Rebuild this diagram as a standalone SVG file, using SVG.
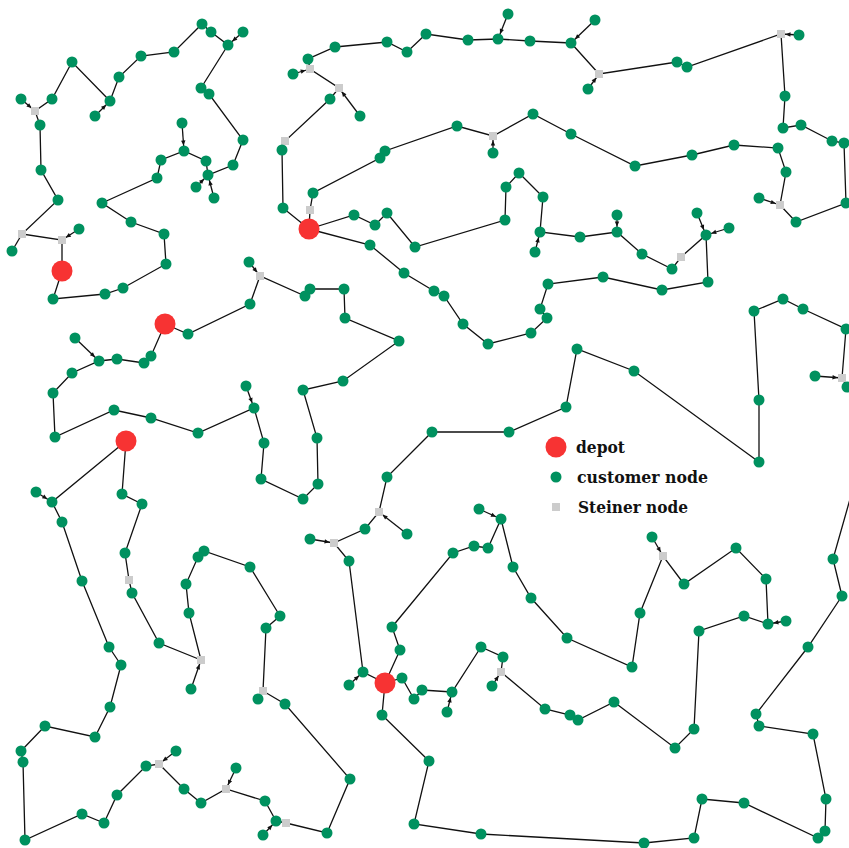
<svg xmlns="http://www.w3.org/2000/svg" width="849" height="848" viewBox="0 0 849 848">
<style>
.c{fill:#00915f}
.d{fill:#f73333}
.s{fill:#cccccc}
#edges polyline,#edges line{fill:none;stroke:#111;stroke-width:1.3}
.t{font-family:"DejaVu Serif",serif;font-weight:bold;font-stretch:condensed;font-size:16.5px;fill:#111}
</style>
<defs>
<marker id="ac" viewBox="-15 -4 15 8" refX="0" refY="0" markerWidth="15" markerHeight="8" markerUnits="userSpaceOnUse" orient="auto"><path d="M-5.5,0 L-10.5,-2.2 L-10.5,2.2 Z" fill="#111"/></marker>
<marker id="as" viewBox="-15 -4 15 8" refX="0" refY="0" markerWidth="15" markerHeight="8" markerUnits="userSpaceOnUse" orient="auto"><path d="M-4.5,0 L-9.5,-2.2 L-9.5,2.2 Z" fill="#111"/></marker>
</defs>
<rect width="849" height="848" fill="#fff"/>
<g id="edges">
<polyline points="62,271 62,240 22,234 58,200 41,170 40,125 35,111 52,99 72,62 110,101 119,77 141,56 174,52 202,24 211,32 228,45 201,88 209,94 243,140 233,165 208,175 206,161 184,151 161,160 157,178 102,203 131,222 164,234 166,264 123,288 105,294 53,299 62,271"/>
<line x1="22" y1="234" x2="12" y2="251"/>
<line x1="21" y1="99" x2="35" y2="111" marker-end="url(#as)"/>
<line x1="79" y1="229" x2="62" y2="240" marker-end="url(#as)"/>
<line x1="95" y1="116" x2="110" y2="101" marker-end="url(#ac)"/>
<line x1="243" y1="32" x2="228" y2="45" marker-end="url(#ac)"/>
<line x1="196" y1="187" x2="208" y2="175" marker-end="url(#ac)"/>
<line x1="214" y1="198" x2="208" y2="175" marker-end="url(#ac)"/>
<line x1="182" y1="123" x2="184" y2="151" marker-end="url(#ac)"/>
<polyline points="309,229 283,208 282,150 285,141 330,99 339,88 310,69 308,59 335,47 387,42 407,52 426,34 468,40 498,39 530,41 571,43 599,74 677,62 687,67 781,34 785,96 783,128 801,125 832,141 844,143 846,203 796,222 780,205 786,172 778,148 734,145 692,155 635,166 571,134 533,114 493,136 457,126 385,151 380,158 313,193 310,210 309,229"/>
<line x1="508" y1="14" x2="498" y2="39" marker-end="url(#ac)"/>
<line x1="293" y1="74" x2="310" y2="69" marker-end="url(#as)"/>
<line x1="360" y1="116" x2="339" y2="88" marker-end="url(#as)"/>
<line x1="493" y1="153" x2="493" y2="136" marker-end="url(#as)"/>
<line x1="595" y1="20" x2="571" y2="43" marker-end="url(#ac)"/>
<line x1="588" y1="89" x2="599" y2="74" marker-end="url(#as)"/>
<line x1="799" y1="35" x2="781" y2="34" marker-end="url(#as)"/>
<line x1="759" y1="198" x2="780" y2="205" marker-end="url(#as)"/>
<polyline points="309,229 354,215 375,225 387,213 415,247 505,220 506,187 519,173 543,197 540,232 580,237 617,232 642,254 672,269 681,257 706,235 708,282 662,290 603,277 548,284 540,309 547,318 531,333 488,344 463,324 444,296 434,291 404,273 370,245 309,229"/>
<line x1="535" y1="252" x2="540" y2="232" marker-end="url(#ac)"/>
<line x1="617" y1="215" x2="617" y2="232" marker-end="url(#ac)"/>
<line x1="697" y1="213" x2="706" y2="235" marker-end="url(#ac)"/>
<line x1="729" y1="228" x2="706" y2="235" marker-end="url(#ac)"/>
<polyline points="165,324 188,334 250,304 260,276 305,296 310,289 344,289 345,318 399,341 343,381 303,390 317,438 318,484 303,499 261,479 264,443 254,408 198,433 151,418 114,410 55,437 53,393 72,373 99,361 117,359 144,363 151,356 165,324"/>
<line x1="249" y1="262" x2="260" y2="276" marker-end="url(#as)"/>
<line x1="75" y1="338" x2="99" y2="361" marker-end="url(#ac)"/>
<line x1="246" y1="386" x2="254" y2="408" marker-end="url(#ac)"/>
<polyline points="126,441 52,502 62,522 82,581 109,647 121,665 110,707 95,737 45,726 21,751 23,762 25,840 82,814 104,823 117,795 146,766 159,764 184,789 201,803 226,789 265,801 276,821 286,823 327,833 350,779 285,704 263,691 266,628 280,616 250,567 204,551 198,557 186,584 189,613 201,660 159,643 132,593 129,580 125,553 142,504 122,494 126,441"/>
<line x1="263" y1="691" x2="258" y2="699"/>
<line x1="36" y1="492" x2="52" y2="502" marker-end="url(#ac)"/>
<line x1="176" y1="751" x2="159" y2="764" marker-end="url(#as)"/>
<line x1="236" y1="768" x2="226" y2="789" marker-end="url(#as)"/>
<line x1="263" y1="835" x2="276" y2="821" marker-end="url(#ac)"/>
<line x1="191" y1="689" x2="201" y2="660" marker-end="url(#as)"/>
<polyline points="385,683 363,672 349,561 334,543 365,529 379,512 387,477 432,432 509,432 566,407 577,349 634,371 759,462 759,400 754,311 783,299 803,309 846,329 842,378 847,387"/>
<line x1="349" y1="685" x2="363" y2="672" marker-end="url(#ac)"/>
<line x1="310" y1="539" x2="334" y2="543" marker-end="url(#as)"/>
<line x1="407" y1="534" x2="379" y2="512" marker-end="url(#as)"/>
<line x1="815" y1="376" x2="842" y2="378" marker-end="url(#as)"/>
<polyline points="856,478 833,559 842,596 808,647 756,714 759,726 813,734 826,799 825,831 818,838 744,803 702,799 694,838 644,843 481,834 414,824 429,761 382,715 385,683"/>
<polyline points="385,683 400,650 392,627 453,553 474,546 488,548 501,519 513,567 531,598 567,638 632,667 640,613 663,556 684,584 736,548 766,579 768,624 744,616 699,631 694,729 675,748 614,702 578,720 570,715 545,709 501,672 503,657 481,647 452,692 422,690 414,699 402,678 385,683"/>
<line x1="479" y1="509" x2="501" y2="519" marker-end="url(#ac)"/>
<line x1="652" y1="537" x2="663" y2="556" marker-end="url(#as)"/>
<line x1="786" y1="621" x2="768" y2="624" marker-end="url(#ac)"/>
<line x1="447" y1="712" x2="452" y2="692" marker-end="url(#ac)"/>
<line x1="492" y1="686" x2="501" y2="672" marker-end="url(#as)"/>
</g>
<g id="steiner">
<g id="s1"><rect class="s" x="31" y="107" width="8" height="8"/></g>
<g id="s2"><rect class="s" x="18" y="230" width="8" height="8"/></g>
<g id="s3"><rect class="s" x="58" y="236" width="8" height="8"/></g>
<g id="s4"><rect class="s" x="281" y="137" width="8" height="8"/></g>
<g id="s5"><rect class="s" x="306" y="65" width="8" height="8"/></g>
<g id="s6"><rect class="s" x="335" y="84" width="8" height="8"/></g>
<g id="s7"><rect class="s" x="306" y="206" width="8" height="8"/></g>
<g id="s8"><rect class="s" x="489" y="132" width="8" height="8"/></g>
<g id="s9"><rect class="s" x="595" y="70" width="8" height="8"/></g>
<g id="s10"><rect class="s" x="777" y="30" width="8" height="8"/></g>
<g id="s11"><rect class="s" x="776" y="201" width="8" height="8"/></g>
<g id="s12"><rect class="s" x="677" y="253" width="8" height="8"/></g>
<g id="s13"><rect class="s" x="256" y="272" width="8" height="8"/></g>
<g id="s14"><rect class="s" x="375" y="508" width="8" height="8"/></g>
<g id="s15"><rect class="s" x="330" y="539" width="8" height="8"/></g>
<g id="s16"><rect class="s" x="838" y="374" width="8" height="8"/></g>
<g id="s17"><rect class="s" x="659" y="552" width="8" height="8"/></g>
<g id="s18"><rect class="s" x="125" y="576" width="8" height="8"/></g>
<g id="s19"><rect class="s" x="197" y="656" width="8" height="8"/></g>
<g id="s20"><rect class="s" x="259" y="687" width="8" height="8"/></g>
<g id="s21"><rect class="s" x="155" y="760" width="8" height="8"/></g>
<g id="s22"><rect class="s" x="222" y="785" width="8" height="8"/></g>
<g id="s23"><rect class="s" x="282" y="819" width="8" height="8"/></g>
<g id="s24"><rect class="s" x="497" y="668" width="8" height="8"/></g>
</g>
<g id="customers">
<g id="c1"><circle class="c" cx="202" cy="24" r="5.5"/></g>
<g id="c2"><circle class="c" cx="211" cy="32" r="5.5"/></g>
<g id="c3"><circle class="c" cx="243" cy="32" r="5.5"/></g>
<g id="c4"><circle class="c" cx="228" cy="45" r="5.5"/></g>
<g id="c5"><circle class="c" cx="174" cy="52" r="5.5"/></g>
<g id="c6"><circle class="c" cx="141" cy="56" r="5.5"/></g>
<g id="c7"><circle class="c" cx="72" cy="62" r="5.5"/></g>
<g id="c8"><circle class="c" cx="119" cy="77" r="5.5"/></g>
<g id="c9"><circle class="c" cx="201" cy="88" r="5.5"/></g>
<g id="c10"><circle class="c" cx="209" cy="94" r="5.5"/></g>
<g id="c11"><circle class="c" cx="21" cy="99" r="5.5"/></g>
<g id="c12"><circle class="c" cx="52" cy="99" r="5.5"/></g>
<g id="c13"><circle class="c" cx="110" cy="101" r="5.5"/></g>
<g id="c14"><circle class="c" cx="95" cy="116" r="5.5"/></g>
<g id="c15"><circle class="c" cx="40" cy="125" r="5.5"/></g>
<g id="c16"><circle class="c" cx="182" cy="123" r="5.5"/></g>
<g id="c17"><circle class="c" cx="243" cy="140" r="5.5"/></g>
<g id="c18"><circle class="c" cx="184" cy="151" r="5.5"/></g>
<g id="c19"><circle class="c" cx="161" cy="160" r="5.5"/></g>
<g id="c20"><circle class="c" cx="206" cy="161" r="5.5"/></g>
<g id="c21"><circle class="c" cx="233" cy="165" r="5.5"/></g>
<g id="c22"><circle class="c" cx="208" cy="175" r="5.5"/></g>
<g id="c23"><circle class="c" cx="196" cy="187" r="5.5"/></g>
<g id="c24"><circle class="c" cx="214" cy="198" r="5.5"/></g>
<g id="c25"><circle class="c" cx="157" cy="178" r="5.5"/></g>
<g id="c26"><circle class="c" cx="41" cy="170" r="5.5"/></g>
<g id="c27"><circle class="c" cx="58" cy="200" r="5.5"/></g>
<g id="c28"><circle class="c" cx="102" cy="203" r="5.5"/></g>
<g id="c29"><circle class="c" cx="131" cy="222" r="5.5"/></g>
<g id="c30"><circle class="c" cx="164" cy="234" r="5.5"/></g>
<g id="c31"><circle class="c" cx="166" cy="264" r="5.5"/></g>
<g id="c32"><circle class="c" cx="79" cy="229" r="5.5"/></g>
<g id="c33"><circle class="c" cx="12" cy="251" r="5.5"/></g>
<g id="c34"><circle class="c" cx="123" cy="288" r="5.5"/></g>
<g id="c35"><circle class="c" cx="105" cy="294" r="5.5"/></g>
<g id="c36"><circle class="c" cx="53" cy="299" r="5.5"/></g>
<g id="c37"><circle class="c" cx="249" cy="262" r="5.5"/></g>
<g id="c38"><circle class="c" cx="250" cy="304" r="5.5"/></g>
<g id="c39"><circle class="c" cx="282" cy="150" r="5.5"/></g>
<g id="c40"><circle class="c" cx="283" cy="208" r="5.5"/></g>
<g id="c41"><circle class="c" cx="508" cy="14" r="5.5"/></g>
<g id="c42"><circle class="c" cx="498" cy="39" r="5.5"/></g>
<g id="c43"><circle class="c" cx="530" cy="41" r="5.5"/></g>
<g id="c44"><circle class="c" cx="468" cy="40" r="5.5"/></g>
<g id="c45"><circle class="c" cx="426" cy="34" r="5.5"/></g>
<g id="c46"><circle class="c" cx="407" cy="52" r="5.5"/></g>
<g id="c47"><circle class="c" cx="387" cy="42" r="5.5"/></g>
<g id="c48"><circle class="c" cx="335" cy="47" r="5.5"/></g>
<g id="c49"><circle class="c" cx="308" cy="59" r="5.5"/></g>
<g id="c50"><circle class="c" cx="293" cy="74" r="5.5"/></g>
<g id="c51"><circle class="c" cx="330" cy="99" r="5.5"/></g>
<g id="c52"><circle class="c" cx="360" cy="116" r="5.5"/></g>
<g id="c53"><circle class="c" cx="457" cy="126" r="5.5"/></g>
<g id="c54"><circle class="c" cx="493" cy="153" r="5.5"/></g>
<g id="c55"><circle class="c" cx="533" cy="114" r="5.5"/></g>
<g id="c56"><circle class="c" cx="571" cy="43" r="5.5"/></g>
<g id="c57"><circle class="c" cx="571" cy="134" r="5.5"/></g>
<g id="c58"><circle class="c" cx="385" cy="151" r="5.5"/></g>
<g id="c59"><circle class="c" cx="380" cy="158" r="5.5"/></g>
<g id="c60"><circle class="c" cx="313" cy="193" r="5.5"/></g>
<g id="c61"><circle class="c" cx="354" cy="215" r="5.5"/></g>
<g id="c62"><circle class="c" cx="375" cy="225" r="5.5"/></g>
<g id="c63"><circle class="c" cx="387" cy="213" r="5.5"/></g>
<g id="c64"><circle class="c" cx="415" cy="247" r="5.5"/></g>
<g id="c65"><circle class="c" cx="505" cy="220" r="5.5"/></g>
<g id="c66"><circle class="c" cx="506" cy="187" r="5.5"/></g>
<g id="c67"><circle class="c" cx="519" cy="173" r="5.5"/></g>
<g id="c68"><circle class="c" cx="543" cy="197" r="5.5"/></g>
<g id="c69"><circle class="c" cx="540" cy="232" r="5.5"/></g>
<g id="c70"><circle class="c" cx="535" cy="252" r="5.5"/></g>
<g id="c71"><circle class="c" cx="370" cy="245" r="5.5"/></g>
<g id="c72"><circle class="c" cx="404" cy="273" r="5.5"/></g>
<g id="c73"><circle class="c" cx="434" cy="291" r="5.5"/></g>
<g id="c74"><circle class="c" cx="444" cy="296" r="5.5"/></g>
<g id="c75"><circle class="c" cx="310" cy="289" r="5.5"/></g>
<g id="c76"><circle class="c" cx="305" cy="296" r="5.5"/></g>
<g id="c77"><circle class="c" cx="344" cy="289" r="5.5"/></g>
<g id="c78"><circle class="c" cx="548" cy="284" r="5.5"/></g>
<g id="c79"><circle class="c" cx="595" cy="20" r="5.5"/></g>
<g id="c80"><circle class="c" cx="588" cy="89" r="5.5"/></g>
<g id="c81"><circle class="c" cx="677" cy="62" r="5.5"/></g>
<g id="c82"><circle class="c" cx="687" cy="67" r="5.5"/></g>
<g id="c83"><circle class="c" cx="799" cy="35" r="5.5"/></g>
<g id="c84"><circle class="c" cx="785" cy="96" r="5.5"/></g>
<g id="c85"><circle class="c" cx="783" cy="128" r="5.5"/></g>
<g id="c86"><circle class="c" cx="801" cy="125" r="5.5"/></g>
<g id="c87"><circle class="c" cx="832" cy="141" r="5.5"/></g>
<g id="c88"><circle class="c" cx="844" cy="143" r="5.5"/></g>
<g id="c89"><circle class="c" cx="846" cy="203" r="5.5"/></g>
<g id="c90"><circle class="c" cx="796" cy="222" r="5.5"/></g>
<g id="c91"><circle class="c" cx="759" cy="198" r="5.5"/></g>
<g id="c92"><circle class="c" cx="786" cy="172" r="5.5"/></g>
<g id="c93"><circle class="c" cx="778" cy="148" r="5.5"/></g>
<g id="c94"><circle class="c" cx="734" cy="145" r="5.5"/></g>
<g id="c95"><circle class="c" cx="692" cy="155" r="5.5"/></g>
<g id="c96"><circle class="c" cx="635" cy="166" r="5.5"/></g>
<g id="c97"><circle class="c" cx="617" cy="215" r="5.5"/></g>
<g id="c98"><circle class="c" cx="617" cy="232" r="5.5"/></g>
<g id="c99"><circle class="c" cx="580" cy="237" r="5.5"/></g>
<g id="c100"><circle class="c" cx="642" cy="254" r="5.5"/></g>
<g id="c101"><circle class="c" cx="672" cy="269" r="5.5"/></g>
<g id="c102"><circle class="c" cx="706" cy="235" r="5.5"/></g>
<g id="c103"><circle class="c" cx="697" cy="213" r="5.5"/></g>
<g id="c104"><circle class="c" cx="729" cy="228" r="5.5"/></g>
<g id="c105"><circle class="c" cx="708" cy="282" r="5.5"/></g>
<g id="c106"><circle class="c" cx="662" cy="290" r="5.5"/></g>
<g id="c107"><circle class="c" cx="603" cy="277" r="5.5"/></g>
<g id="c108"><circle class="c" cx="188" cy="334" r="5.5"/></g>
<g id="c109"><circle class="c" cx="75" cy="338" r="5.5"/></g>
<g id="c110"><circle class="c" cx="99" cy="361" r="5.5"/></g>
<g id="c111"><circle class="c" cx="117" cy="359" r="5.5"/></g>
<g id="c112"><circle class="c" cx="144" cy="363" r="5.5"/></g>
<g id="c113"><circle class="c" cx="151" cy="356" r="5.5"/></g>
<g id="c114"><circle class="c" cx="72" cy="373" r="5.5"/></g>
<g id="c115"><circle class="c" cx="53" cy="393" r="5.5"/></g>
<g id="c116"><circle class="c" cx="55" cy="437" r="5.5"/></g>
<g id="c117"><circle class="c" cx="114" cy="410" r="5.5"/></g>
<g id="c118"><circle class="c" cx="151" cy="418" r="5.5"/></g>
<g id="c119"><circle class="c" cx="198" cy="433" r="5.5"/></g>
<g id="c120"><circle class="c" cx="246" cy="386" r="5.5"/></g>
<g id="c121"><circle class="c" cx="254" cy="408" r="5.5"/></g>
<g id="c122"><circle class="c" cx="264" cy="443" r="5.5"/></g>
<g id="c123"><circle class="c" cx="261" cy="479" r="5.5"/></g>
<g id="c124"><circle class="c" cx="36" cy="492" r="5.5"/></g>
<g id="c125"><circle class="c" cx="52" cy="502" r="5.5"/></g>
<g id="c126"><circle class="c" cx="62" cy="522" r="5.5"/></g>
<g id="c127"><circle class="c" cx="122" cy="494" r="5.5"/></g>
<g id="c128"><circle class="c" cx="142" cy="504" r="5.5"/></g>
<g id="c129"><circle class="c" cx="125" cy="553" r="5.5"/></g>
<g id="c130"><circle class="c" cx="204" cy="551" r="5.5"/></g>
<g id="c131"><circle class="c" cx="198" cy="557" r="5.5"/></g>
<g id="c132"><circle class="c" cx="250" cy="567" r="5.5"/></g>
<g id="c133"><circle class="c" cx="345" cy="318" r="5.5"/></g>
<g id="c134"><circle class="c" cx="399" cy="341" r="5.5"/></g>
<g id="c135"><circle class="c" cx="343" cy="381" r="5.5"/></g>
<g id="c136"><circle class="c" cx="303" cy="390" r="5.5"/></g>
<g id="c137"><circle class="c" cx="317" cy="438" r="5.5"/></g>
<g id="c138"><circle class="c" cx="318" cy="484" r="5.5"/></g>
<g id="c139"><circle class="c" cx="303" cy="499" r="5.5"/></g>
<g id="c140"><circle class="c" cx="463" cy="324" r="5.5"/></g>
<g id="c141"><circle class="c" cx="488" cy="344" r="5.5"/></g>
<g id="c142"><circle class="c" cx="531" cy="333" r="5.5"/></g>
<g id="c143"><circle class="c" cx="547" cy="318" r="5.5"/></g>
<g id="c144"><circle class="c" cx="540" cy="309" r="5.5"/></g>
<g id="c145"><circle class="c" cx="566" cy="407" r="5.5"/></g>
<g id="c146"><circle class="c" cx="509" cy="432" r="5.5"/></g>
<g id="c147"><circle class="c" cx="432" cy="432" r="5.5"/></g>
<g id="c148"><circle class="c" cx="387" cy="477" r="5.5"/></g>
<g id="c149"><circle class="c" cx="365" cy="529" r="5.5"/></g>
<g id="c150"><circle class="c" cx="310" cy="539" r="5.5"/></g>
<g id="c151"><circle class="c" cx="349" cy="561" r="5.5"/></g>
<g id="c152"><circle class="c" cx="407" cy="534" r="5.5"/></g>
<g id="c153"><circle class="c" cx="479" cy="509" r="5.5"/></g>
<g id="c154"><circle class="c" cx="501" cy="519" r="5.5"/></g>
<g id="c155"><circle class="c" cx="488" cy="548" r="5.5"/></g>
<g id="c156"><circle class="c" cx="474" cy="546" r="5.5"/></g>
<g id="c157"><circle class="c" cx="453" cy="553" r="5.5"/></g>
<g id="c158"><circle class="c" cx="513" cy="567" r="5.5"/></g>
<g id="c159"><circle class="c" cx="754" cy="311" r="5.5"/></g>
<g id="c160"><circle class="c" cx="783" cy="299" r="5.5"/></g>
<g id="c161"><circle class="c" cx="803" cy="309" r="5.5"/></g>
<g id="c162"><circle class="c" cx="846" cy="329" r="5.5"/></g>
<g id="c163"><circle class="c" cx="815" cy="376" r="5.5"/></g>
<g id="c164"><circle class="c" cx="847" cy="387" r="5.5"/></g>
<g id="c165"><circle class="c" cx="577" cy="349" r="5.5"/></g>
<g id="c166"><circle class="c" cx="634" cy="371" r="5.5"/></g>
<g id="c167"><circle class="c" cx="759" cy="400" r="5.5"/></g>
<g id="c168"><circle class="c" cx="759" cy="462" r="5.5"/></g>
<g id="c169"><circle class="c" cx="652" cy="537" r="5.5"/></g>
<g id="c170"><circle class="c" cx="736" cy="548" r="5.5"/></g>
<g id="c171"><circle class="c" cx="833" cy="559" r="5.5"/></g>
<g id="c172"><circle class="c" cx="82" cy="581" r="5.5"/></g>
<g id="c173"><circle class="c" cx="132" cy="593" r="5.5"/></g>
<g id="c174"><circle class="c" cx="186" cy="584" r="5.5"/></g>
<g id="c175"><circle class="c" cx="189" cy="613" r="5.5"/></g>
<g id="c176"><circle class="c" cx="280" cy="616" r="5.5"/></g>
<g id="c177"><circle class="c" cx="266" cy="628" r="5.5"/></g>
<g id="c178"><circle class="c" cx="109" cy="647" r="5.5"/></g>
<g id="c179"><circle class="c" cx="121" cy="665" r="5.5"/></g>
<g id="c180"><circle class="c" cx="159" cy="643" r="5.5"/></g>
<g id="c181"><circle class="c" cx="191" cy="689" r="5.5"/></g>
<g id="c182"><circle class="c" cx="110" cy="707" r="5.5"/></g>
<g id="c183"><circle class="c" cx="95" cy="737" r="5.5"/></g>
<g id="c184"><circle class="c" cx="45" cy="726" r="5.5"/></g>
<g id="c185"><circle class="c" cx="21" cy="751" r="5.5"/></g>
<g id="c186"><circle class="c" cx="23" cy="762" r="5.5"/></g>
<g id="c187"><circle class="c" cx="25" cy="840" r="5.5"/></g>
<g id="c188"><circle class="c" cx="82" cy="814" r="5.5"/></g>
<g id="c189"><circle class="c" cx="104" cy="823" r="5.5"/></g>
<g id="c190"><circle class="c" cx="117" cy="795" r="5.5"/></g>
<g id="c191"><circle class="c" cx="146" cy="766" r="5.5"/></g>
<g id="c192"><circle class="c" cx="176" cy="751" r="5.5"/></g>
<g id="c193"><circle class="c" cx="184" cy="789" r="5.5"/></g>
<g id="c194"><circle class="c" cx="201" cy="803" r="5.5"/></g>
<g id="c195"><circle class="c" cx="236" cy="768" r="5.5"/></g>
<g id="c196"><circle class="c" cx="265" cy="801" r="5.5"/></g>
<g id="c197"><circle class="c" cx="276" cy="821" r="5.5"/></g>
<g id="c198"><circle class="c" cx="263" cy="835" r="5.5"/></g>
<g id="c199"><circle class="c" cx="258" cy="699" r="5.5"/></g>
<g id="c200"><circle class="c" cx="285" cy="704" r="5.5"/></g>
<g id="c201"><circle class="c" cx="350" cy="779" r="5.5"/></g>
<g id="c202"><circle class="c" cx="327" cy="833" r="5.5"/></g>
<g id="c203"><circle class="c" cx="392" cy="627" r="5.5"/></g>
<g id="c204"><circle class="c" cx="400" cy="650" r="5.5"/></g>
<g id="c205"><circle class="c" cx="363" cy="672" r="5.5"/></g>
<g id="c206"><circle class="c" cx="349" cy="685" r="5.5"/></g>
<g id="c207"><circle class="c" cx="402" cy="678" r="5.5"/></g>
<g id="c208"><circle class="c" cx="414" cy="699" r="5.5"/></g>
<g id="c209"><circle class="c" cx="422" cy="690" r="5.5"/></g>
<g id="c210"><circle class="c" cx="452" cy="692" r="5.5"/></g>
<g id="c211"><circle class="c" cx="447" cy="712" r="5.5"/></g>
<g id="c212"><circle class="c" cx="481" cy="647" r="5.5"/></g>
<g id="c213"><circle class="c" cx="503" cy="657" r="5.5"/></g>
<g id="c214"><circle class="c" cx="492" cy="686" r="5.5"/></g>
<g id="c215"><circle class="c" cx="545" cy="709" r="5.5"/></g>
<g id="c216"><circle class="c" cx="570" cy="715" r="5.5"/></g>
<g id="c217"><circle class="c" cx="531" cy="598" r="5.5"/></g>
<g id="c218"><circle class="c" cx="567" cy="638" r="5.5"/></g>
<g id="c219"><circle class="c" cx="382" cy="715" r="5.5"/></g>
<g id="c220"><circle class="c" cx="429" cy="761" r="5.5"/></g>
<g id="c221"><circle class="c" cx="414" cy="824" r="5.5"/></g>
<g id="c222"><circle class="c" cx="481" cy="834" r="5.5"/></g>
<g id="c223"><circle class="c" cx="684" cy="584" r="5.5"/></g>
<g id="c224"><circle class="c" cx="766" cy="579" r="5.5"/></g>
<g id="c225"><circle class="c" cx="640" cy="613" r="5.5"/></g>
<g id="c226"><circle class="c" cx="632" cy="667" r="5.5"/></g>
<g id="c227"><circle class="c" cx="768" cy="624" r="5.5"/></g>
<g id="c228"><circle class="c" cx="786" cy="621" r="5.5"/></g>
<g id="c229"><circle class="c" cx="744" cy="616" r="5.5"/></g>
<g id="c230"><circle class="c" cx="699" cy="631" r="5.5"/></g>
<g id="c231"><circle class="c" cx="694" cy="729" r="5.5"/></g>
<g id="c232"><circle class="c" cx="675" cy="748" r="5.5"/></g>
<g id="c233"><circle class="c" cx="614" cy="702" r="5.5"/></g>
<g id="c234"><circle class="c" cx="578" cy="720" r="5.5"/></g>
<g id="c235"><circle class="c" cx="842" cy="596" r="5.5"/></g>
<g id="c236"><circle class="c" cx="808" cy="647" r="5.5"/></g>
<g id="c237"><circle class="c" cx="756" cy="714" r="5.5"/></g>
<g id="c238"><circle class="c" cx="759" cy="726" r="5.5"/></g>
<g id="c239"><circle class="c" cx="813" cy="734" r="5.5"/></g>
<g id="c240"><circle class="c" cx="826" cy="799" r="5.5"/></g>
<g id="c241"><circle class="c" cx="825" cy="831" r="5.5"/></g>
<g id="c242"><circle class="c" cx="818" cy="838" r="5.5"/></g>
<g id="c243"><circle class="c" cx="702" cy="799" r="5.5"/></g>
<g id="c244"><circle class="c" cx="744" cy="803" r="5.5"/></g>
<g id="c245"><circle class="c" cx="694" cy="838" r="5.5"/></g>
<g id="c246"><circle class="c" cx="644" cy="843" r="5.5"/></g>
</g>
<g id="depots">
<g id="d1"><circle class="d" cx="62" cy="271" r="10.5"/></g>
<g id="d2"><circle class="d" cx="165" cy="324" r="10.5"/></g>
<g id="d3"><circle class="d" cx="126" cy="441" r="10.5"/></g>
<g id="d4"><circle class="d" cx="309" cy="229" r="10.5"/></g>
<g id="d5"><circle class="d" cx="385" cy="683" r="10.5"/></g>
</g>
<g id="legend">
<circle class="d" cx="556" cy="447" r="10.5"/>
<text class="t" x="576" y="453" textLength="49" lengthAdjust="spacingAndGlyphs">depot</text>
<circle class="c" cx="556" cy="477" r="5.5"/>
<text class="t" x="577" y="483" textLength="131" lengthAdjust="spacingAndGlyphs">customer node</text>
<rect class="s" x="552" y="503" width="8" height="8"/>
<text class="t" x="578" y="513" textLength="110" lengthAdjust="spacingAndGlyphs">Steiner node</text>
</g>
</svg>
